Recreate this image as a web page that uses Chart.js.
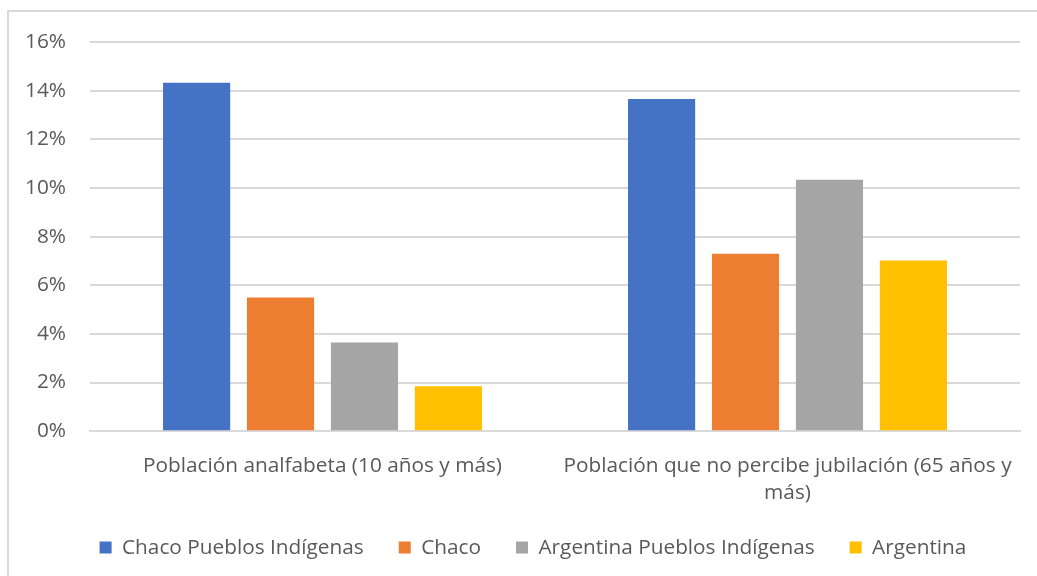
<!DOCTYPE html>
<html>
<head>
<meta charset="utf-8">
<script src="https://cdn.jsdelivr.net/npm/chart.js@4"></script>
<style>
  html, body { margin: 0; padding: 0; background: #fff; }
  #wrap { position: relative; width: 1037px; height: 576px; }
  #frame { position: absolute; left: 7px; top: 10px; right: -2px; bottom: -2px; border: 2px solid #d9d9d9; box-sizing: border-box; }
  canvas { position: absolute; left: 0; top: 0; }
</style>
</head>
<body>
<div id="wrap">
  <div id="frame"></div>
  <canvas id="chart" width="1037" height="576"></canvas>
</div>
<script>
// categorías
const categories = [
    'Población analfabeta (10 años y más)',
    ['Población que no percibe jubilación (65 años y', 'más)']
];
// series (en %)
const chacoIndigenas = [14.32, 13.66];
const chaco = [5.50, 7.30];
const argentinaIndigenas = [3.65, 10.34];
const argentina = [1.85, 7.02];
const yTicks = [0, 2, 4, 6, 8, 10, 12, 14, 16];

const FONT = { family: 'Open Sans', size: 20.8 };
const TEXT = '#595959';

// mueve la leyenda un poco (x, y) después del layout
const legendNudge = {
    id: 'legendNudge',
    afterLayout(chart) {
        const lg = chart.legend;
        lg.left += 23; lg.right += 23;
        lg.top -= 5; lg.bottom -= 5;
    }
};

const chart = new Chart(document.getElementById('chart'), {
    type: 'bar',
    data: {
        labels: categories,
        datasets: [
            { label: 'Chaco Pueblos Indígenas', data: chacoIndigenas, backgroundColor: '#4472C4' },
            { label: 'Chaco', data: chaco, backgroundColor: '#ED7D31' },
            { label: 'Argentina Pueblos Indígenas', data: argentinaIndigenas, backgroundColor: '#A5A5A5' },
            { label: 'Argentina', data: argentina, backgroundColor: '#FFC000' }
        ]
    },
    plugins: [legendNudge],
    options: {
        responsive: false,
        animation: false,
        layout: { padding: { top: 42, right: 17, bottom: 3, left: 0 } },
        datasets: { bar: { categoryPercentage: 0.722, barPercentage: 0.8 } },
        plugins: {
            tooltip: { enabled: false },
            legend: {
                position: 'bottom',
                labels: {
                    color: TEXT, font: FONT,
                    boxWidth: 12, boxHeight: 12, padding: 35
                }
            }
        },
        scales: {
            x: {
                grid: { display: false },
                border: { color: '#d9d9d9', width: 2 },
                ticks: { color: TEXT, font: { ...FONT, lineHeight: 1.3 }, maxRotation: 0, padding: 13 },
                afterFit: (s) => { s.height = 76; }
            },
            y: {
                min: 0, max: 16,
                afterBuildTicks: (s) => { s.ticks = yTicks.map(v => ({ value: v })); },
                grid: { color: '#d9d9d9', lineWidth: 2, drawTicks: false },
                border: { display: false },
                ticks: { color: TEXT, font: FONT, padding: 24, callback: (v) => v + '%' },
                afterFit: (s) => { s.width = 90; }
            }
        }
    }
});
</script>
</body>
</html>
